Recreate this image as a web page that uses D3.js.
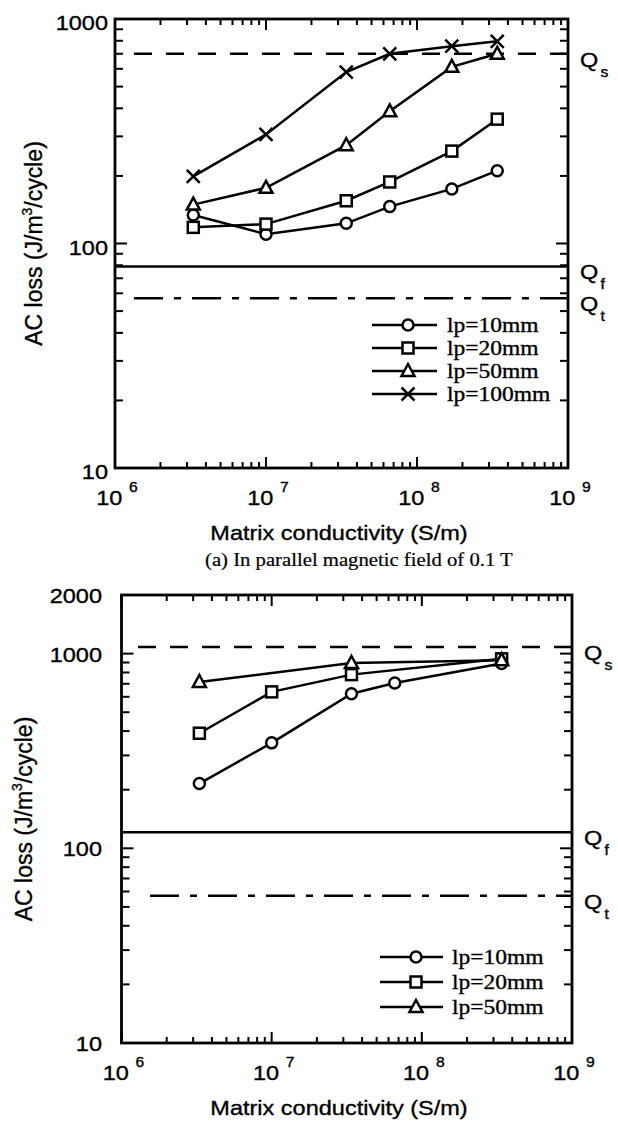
<!DOCTYPE html>
<html>
<head>
  <meta charset="utf-8">
  <title>AC loss vs matrix conductivity</title>
  <script src="https://d3js.org/d3.v7.min.js"></script>
  <style>
    body { margin: 0; background: #fff; }
    svg { display: block; }
  </style>
</head>
<body>
<script>
// ---- data ----
// (a) parallel field 0.1 T
var sigmaA = [3.3e6, 1e7, 3.4e7, 6.6e7, 1.7e8, 3.4e8];
var lossA10 = [134, 110, 123, 146, 175, 211];
var lossA20 = [118, 122, 155, 188, 258, 358];
var lossA50 = [149, 177, 274, 388, 612, 700];
var lossA100 = [199, 306, 580, 700, 757, 795];
var refA = [700, 79, 57];          // Qs, Qf, Qt

// lower panel
var sigmaB10 = [3.3e6, 1e7, 3.4e7, 6.6e7, 3.4e8];
var lossB10 = [215, 348, 622, 706, 890];
var sigmaB20 = [3.3e6, 1e7, 3.4e7, 3.4e8];
var lossB20 = [390, 636, 780, 940];
var sigmaB50 = [3.3e6, 3.4e7, 3.4e8];
var lossB50 = [715, 895, 925];
var refB = [1080, 121, 57];

var refNames = ['s', 'f', 't'];
var seriesNames = ['lp=10mm', 'lp=20mm', 'lp=50mm', 'lp=100mm'];
var markerKinds = ['circle', 'square', 'triangle', 'cross'];
var xTickExp = [6, 7, 8, 9];
var yLabelsA = [10, 100, 1000];
var yLabelsB = [10, 100, 1000, 2000];

var SANS = 'Liberation Sans, Arial, Helvetica, sans-serif';
var SERIF = 'Liberation Serif, Times New Roman, serif';
var SX = 1.12; // scanned text is a bit wide
var LW = 2.5;

var svg = d3.select('body').append('svg')
  .attr('width', 618).attr('height', 1121);

function stext(g, x, y, str, size, family, anchor) {
  return g.append('text')
    .attr('transform', 'translate(' + x + ',' + y + ') scale(' + SX + ',1)')
    .attr('font-size', size)
    .attr('font-family', family)
    .attr('text-anchor', anchor || 'start')
    .attr('fill', '#000')
    .attr('stroke', '#000').attr('stroke-width', 0.35)
    .text(str);
}

function marker(g, kind, x, y) {
  var m = g.append('g').attr('transform', 'translate(' + x + ',' + y + ')');
  var el;
  if (kind === 'circle') el = m.append('circle').attr('r', 5.5);
  else if (kind === 'square') el = m.append('rect').attr('x', -5.5).attr('y', -5.5).attr('width', 11).attr('height', 11);
  else if (kind === 'triangle') el = m.append('path').attr('d', 'M0,-7L6.5,5L-6.5,5Z');
  else el = m.append('path').attr('d', 'M-6.5,-6.5L6.5,6.5M-6.5,6.5L6.5,-6.5');
  el.attr('fill', kind === 'cross' ? 'none' : '#fff').attr('stroke', '#000').attr('stroke-width', LW);
}

function logTicks(lo, hi) {
  var out = [];
  for (var e = Math.floor(Math.log10(lo)); e <= Math.ceil(Math.log10(hi)); e++) {
    for (var k = 1; k <= 9; k++) {
      var v = k * Math.pow(10, e);
      if (v >= lo * 0.999 && v <= hi * 1.001) out.push({ v: v, major: k === 1 });
    }
  }
  return out;
}

function panel(p) {
  var g = svg.append('g');
  var x = d3.scaleLog().domain([1e6, 1e9]).range([p.left, p.right]);
  var y = d3.scaleLog().domain(p.yDomain).range([p.bottom, p.top]);

  // reference lines Qs (dashed), Qf (solid), Qt (dash-dot)
  var dashes = ['18,14', null, '29,11,7,11'];
  p.refs.forEach(function (q, i) {
    var ln = g.append('line')
      .attr('x1', i === 1 ? p.left : p.refStart[i]).attr('x2', p.right)
      .attr('y1', y(q)).attr('y2', y(q))
      .attr('stroke', '#000').attr('stroke-width', LW);
    if (dashes[i]) ln.attr('stroke-dasharray', dashes[i]);
    var t = stext(g, p.right + 12, y(q) + 13, 'Q', 21, SANS);
    t.append('tspan').attr('font-size', 14).attr('dx', 2).attr('dy', 10).text(refNames[i]);
  });

  // frame
  g.append('rect')
    .attr('x', p.left).attr('y', p.top)
    .attr('width', p.right - p.left).attr('height', p.bottom - p.top)
    .attr('fill', 'none').attr('stroke', '#000').attr('stroke-width', LW + 0.3);

  // ticks, all inward
  logTicks(1e6, 1e9).forEach(function (t) {
    var len = t.major ? 11 : 6;
    g.append('line').attr('x1', x(t.v)).attr('x2', x(t.v))
      .attr('y1', p.bottom).attr('y2', p.bottom - len).attr('stroke', '#000').attr('stroke-width', 2);
    g.append('line').attr('x1', x(t.v)).attr('x2', x(t.v))
      .attr('y1', p.top).attr('y2', p.top + len).attr('stroke', '#000').attr('stroke-width', 2);
  });
  logTicks(p.yDomain[0], p.yDomain[1]).forEach(function (t) {
    var len = t.major ? 12 : 8;
    g.append('line').attr('x1', p.left).attr('x2', p.left + len)
      .attr('y1', y(t.v)).attr('y2', y(t.v)).attr('stroke', '#000').attr('stroke-width', 2);
    g.append('line').attr('x1', p.right).attr('x2', p.right - len)
      .attr('y1', y(t.v)).attr('y2', y(t.v)).attr('stroke', '#000').attr('stroke-width', 2);
  });

  // tick labels
  xTickExp.forEach(function (e) {
    var t = stext(g, x(Math.pow(10, e)) + 2, p.bottom + 37, '', 21, SANS, 'middle');
    t.append('tspan').text('10');
    t.append('tspan').attr('font-size', 14).attr('dx', 6).attr('dy', -13).text(e);
  });
  p.yLabels.forEach(function (v) {
    stext(g, p.yLabelRight, y(v) + p.yLabelDy, String(v), 21, SANS, 'end');
  });

  // axis titles
  stext(g, 339, p.bottom + 72, 'Matrix conductivity (S/m)', 21, SANS, 'middle');
  var yt = g.append('text')
    .attr('transform', 'translate(' + p.yTitleX + ',' + ((p.top + p.bottom) / 2) + ') rotate(-90)')
    .attr('font-size', 23).attr('font-family', SANS).attr('text-anchor', 'middle')
    .attr('stroke', '#000').attr('stroke-width', 0.35)
    .attr('dy', '0.35em');
  yt.append('tspan').text('AC loss (J/m');
  yt.append('tspan').attr('font-size', 14).attr('dy', -10).text('3');
  yt.append('tspan').attr('dy', 10).text('/cycle)');

  // data series
  var line = d3.line().x(function (d) { return x(d[0]); }).y(function (d) { return y(d[1]); });
  p.series.forEach(function (s) {
    g.append('path').datum(d3.zip(s.x, s.y)).attr('d', line)
      .attr('fill', 'none').attr('stroke', '#000').attr('stroke-width', LW);
  });
  p.series.forEach(function (s, i) {
    d3.zip(s.x, s.y).forEach(function (d) { marker(g, markerKinds[i], x(d[0]), y(d[1])); });
  });

  // legend
  p.series.forEach(function (s, i) {
    var ry = p.legend.rows[i];
    g.append('line').attr('x1', p.legend.x1).attr('x2', p.legend.x2)
      .attr('y1', ry).attr('y2', ry).attr('stroke', '#000').attr('stroke-width', LW);
    marker(g, markerKinds[i], p.legend.mx, ry);
    stext(g, p.legend.tx, ry + 7, seriesNames[i], 21, SERIF);
  });
}

panel({
  left: 115, right: 568, top: 19, bottom: 468,
  yDomain: [10, 1000], yLabels: yLabelsA, yLabelRight: 108, yLabelDy: 11, yTitleX: 34,
  refs: refA, refStart: [134, 115, 134],
  series: [
    { x: sigmaA, y: lossA10 }, { x: sigmaA, y: lossA20 },
    { x: sigmaA, y: lossA50 }, { x: sigmaA, y: lossA100 }
  ],
  legend: { rows: [325, 348, 371, 394], x1: 372, x2: 437, mx: 408, tx: 447 }
});

stext(svg, 205, 566, '(a) In parallel magnetic field of 0.1 T', 18.5, SERIF).attr('stroke-width', 0.2);

panel({
  left: 121.5, right: 572, top: 595, bottom: 1043,
  yDomain: [10, 2000], yLabels: yLabelsB, yLabelRight: 102, yLabelDy: 8, yTitleX: 24,
  refs: refB, refStart: [138, 121.5, 150],
  series: [
    { x: sigmaB10, y: lossB10 }, { x: sigmaB20, y: lossB20 }, { x: sigmaB50, y: lossB50 }
  ],
  legend: { rows: [957, 982, 1007], x1: 380, x2: 443, mx: 416, tx: 452 }
});
</script>
</body>
</html>
